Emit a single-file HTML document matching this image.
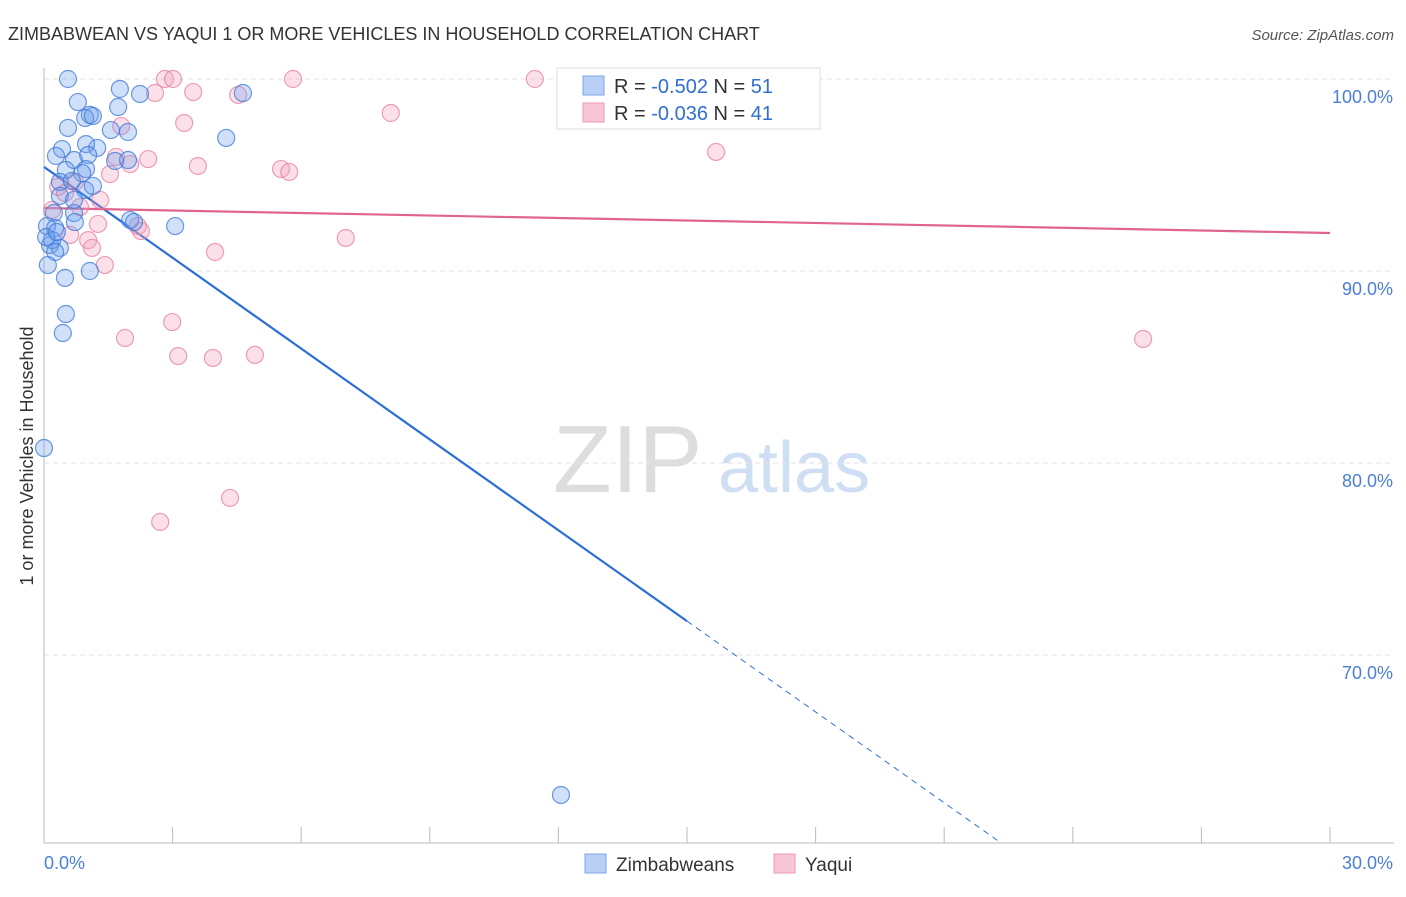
<!DOCTYPE html>
<html><head><meta charset="utf-8"><style>
body{margin:0;background:#fff;font-family:"Liberation Sans",sans-serif;}
svg text{font-family:"Liberation Sans",sans-serif;}
</style></head><body>
<svg id="chart" width="1406" height="892" xmlns="http://www.w3.org/2000/svg">
<text x="8" y="40" font-size="18" fill="#333">ZIMBABWEAN VS YAQUI 1 OR MORE VEHICLES IN HOUSEHOLD CORRELATION CHART</text>
<text x="1394" y="40" font-size="15" fill="#555" font-style="italic" text-anchor="end">Source: ZipAtlas.com</text>
<g>
<text x="553" y="492" font-size="96" fill="#ddd" font-family="Liberation Serif,serif">ZIP</text>
<text x="718" y="492" font-size="72" fill="#cfdff3">atlas</text>
</g>
<g id="grid"></g>
<g id="axes"></g>
<text transform="translate(33,456) rotate(-90)" font-size="18" fill="#333" text-anchor="middle">1 or more Vehicles in Household</text>
<g id="lines"></g>
<g id="points"></g>
<g>
<rect x="557" y="68" width="263" height="61" fill="#fff" stroke="#ddd"/>
<rect x="583" y="76" width="21" height="19" fill="#b8d0f5" stroke="#7ea6e6"/>
<text x="614" y="93" font-size="20" fill="#333">R = <tspan fill="#2f6fd1">-0.502</tspan>   N = <tspan fill="#2f6fd1">51</tspan></text>
<rect x="583" y="103" width="21" height="19" fill="#f9c6d5" stroke="#ec9ab4"/>
<text x="614" y="120" font-size="20" fill="#333">R = <tspan fill="#2f6fd1">-0.036</tspan>   N = <tspan fill="#2f6fd1">41</tspan></text>
</g>
<g>
<rect x="585" y="854" width="21" height="19" fill="#b8d0f5" stroke="#7ea6e6"/>
<text x="616" y="871" font-size="19" fill="#333">Zimbabweans</text>
<rect x="774" y="854" width="21" height="19" fill="#f9c6d5" stroke="#ec9ab4"/>
<text x="805" y="871" font-size="19" fill="#333">Yaqui</text>
</g>
</svg>
<script>
const yTicks=[100,90,80,70];
const yTickLabels=["100.0%","90.0%","80.0%","70.0%"];
const xTickLabels=["0.0%","30.0%"];
const blueX=[0.56,0.79,1.73,1.77,2.24,4.64,1.07,0.56,0.96,1.14,1.56,1.96,4.25,1.24,0.98,0.42,0.28,0.70,1.03,1.66,1.96,0.98,0.89,0.51,0.37,0.65,0.96,0.37,0.23,0.70,0.07,0.26,0.72,2.01,3.06,0.14,0.37,0.19,0.26,0.09,1.07,0.49,0.51,0.44,0.00,12.06,0.05,2.10,1.14,0.70,0.30];
const blueY=[100,98.80,98.54,99.48,99.22,99.27,98.13,97.45,97.97,98.07,97.34,97.24,96.93,96.41,96.61,96.35,95.99,95.78,96.04,95.73,95.78,95.31,95.10,95.26,94.64,94.69,94.22,93.91,93.02,93.02,92.34,92.24,92.55,92.66,92.34,91.35,91.20,91.61,90.99,90.31,90.00,89.64,87.76,86.77,80.78,62.71,91.77,92.55,94.43,93.70,92.03];
const pinkX=[2.82,3.01,5.81,11.45,2.59,3.48,4.53,8.09,3.27,1.80,0.33,0.49,0.72,0.84,1.54,1.68,2.01,2.43,3.59,5.53,5.72,15.68,1.26,1.03,1.12,1.42,2.19,2.26,3.99,7.04,2.99,1.89,3.13,3.94,4.92,25.64,4.34,2.71,0.19,0.61,1.31];
const pinkY=[100,100,100,100,99.27,99.32,99.17,98.23,97.71,97.55,94.38,94.06,94.64,93.33,95.05,95.94,95.57,95.83,95.47,95.31,95.16,96.20,92.45,91.61,91.20,90.31,92.34,92.08,90.99,91.72,87.34,86.51,85.57,85.47,85.63,86.46,78.18,76.93,93.18,91.88,93.70];
const blueTrend=[95.42,-1.577];
const pinkTrend=[93.28,91.98];

const X0=44,X1=1330,Y100=79,PPY=19.2;
const sx=v=>X0+v*(X1-X0)/30;
const sy=v=>Y100+(100-v)*PPY;
const NS="http://www.w3.org/2000/svg";
function mk(tag,attrs,parent){const e=document.createElementNS(NS,tag);for(const k in attrs)e.setAttribute(k,attrs[k]);parent.appendChild(e);return e;}
const grid=document.getElementById('grid'),axes=document.getElementById('axes');
yTicks.forEach((t,i)=>{
 const g=mk('line',{x1:X0,x2:1394,y1:sy(t),y2:sy(t),stroke:'#e2e2e2','stroke-dasharray':'5,4'},grid);
 
 
 const tx=mk('text',{x:1393,y:sy(t)+24,'font-size':18,fill:'#4a7fd6','text-anchor':'end'},axes);
 tx.textContent=yTickLabels[i];
 
 
});
const yb=843;
mk('line',{x1:X0,x2:X0,y1:68,y2:yb,stroke:'#bbb'},axes);
mk('line',{x1:X0,x2:1394,y1:yb,y2:yb,stroke:'#bbb'},axes);
for(let i=0;i<=10;i++){const x=sx(i*3);mk('line',{x1:x,x2:x,y1:yb,y2:yb-16,stroke:'#bbb'},axes);}
const l0=mk('text',{x:X0,y:869,'font-size':18,fill:'#4a7fd6'},axes);l0.textContent=xTickLabels[0];


const l1=mk('text',{x:1393,y:869,'font-size':18,fill:'#4a7fd6','text-anchor':'end'},axes);l1.textContent=xTickLabels[1];



const pts=document.getElementById('points');
function dots(xs,ys,fill,stroke,name){xs.forEach((v,i)=>{
 const c=mk('circle',{cx:sx(v),cy:sy(ys[i]),r:8.5,fill:fill,stroke:stroke,'stroke-width':1.2},pts);
 
 
});}
dots(pinkX,pinkY,'rgba(244,160,188,0.32)','rgba(228,120,156,0.7)','yaqui-point');
dots(blueX,blueY,'rgba(110,160,235,0.32)','rgba(60,120,215,0.75)','zimbabwean-point');

const ln=document.getElementById('lines');
const bf=x=>blueTrend[0]+blueTrend[1]*x;
const xEnd=(blueTrend[0]-60.2)/(-blueTrend[1]);
const b1=mk('line',{x1:sx(0),y1:sy(bf(0)),x2:sx(15),y2:sy(bf(15)),stroke:'#2e6fd6','stroke-width':2.2},ln);


const b2=mk('line',{x1:sx(15),y1:sy(bf(15)),x2:sx(xEnd),y2:sy(bf(xEnd)),stroke:'#2e6fd6','stroke-width':1,'stroke-dasharray':'6,5'},ln);


const p1=mk('line',{x1:sx(0),y1:sy(pinkTrend[0]),x2:sx(30),y2:sy(pinkTrend[1]),stroke:'#e0648f','stroke-width':2.2},ln);


</script>
</body></html>
